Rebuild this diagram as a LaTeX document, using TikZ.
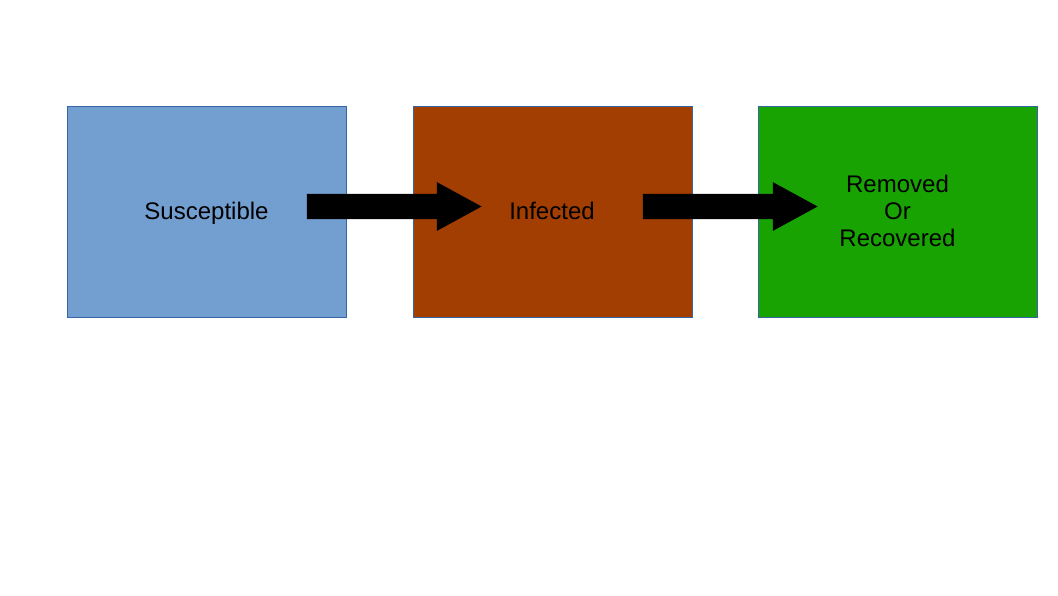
\documentclass[tikz,border=0pt]{standalone}
\usepackage{fontspec}
\setmainfont{Liberation Sans}
\definecolor{cblue}{HTML}{729FCF}
\definecolor{cbrown}{HTML}{A33E03}
\definecolor{cgreen}{HTML}{18A303}
\definecolor{cedge}{HTML}{3465A4}
\begin{document}
\begin{tikzpicture}[x=1pt,y=-1pt,
  stage/.style={draw=cedge,line width=0.8pt,minimum width=278.5pt,minimum height=211pt,inner sep=0pt,anchor=north west},
  lbl/.style={font=\fontsize{24}{27}\selectfont,align=center,text=black,inner sep=0pt},
  one/.style={text height=17pt,text depth=5pt},
  blockarrow/.style={fill=black,draw=black,line width=0.5pt}]
\useasboundingbox (0,0) rectangle (1058,595);
\node[stage,fill=cblue] (s) at (67,106) {};
\node[stage,fill=cbrown] (i) at (413,106) {};
\node[stage,fill=cgreen] (r) at (758,106) {};
\node[lbl,one] (st) at (206.5,213) {Susceptible};
\node[lbl,one] (it) at (552,213) {Infected};
\node[lbl] (rt) at (897.5,211) {Removed\\Or\\Recovered};
\coordinate (a1) at (307,206.5);
\coordinate (a2) at (643,206.5);
\fill[blockarrow] (a1) ++(0,-12.3) -- ++(130,0) -- ++(0,-11.7) -- ++(44,24) -- ++(-44,24) -- ++(0,-11.7) -- ++(-130,0) -- cycle;
\fill[blockarrow] (a2) ++(0,-12.3) -- ++(130,0) -- ++(0,-11.7) -- ++(44,24) -- ++(-44,24) -- ++(0,-11.7) -- ++(-130,0) -- cycle;
\end{tikzpicture}
\end{document}
